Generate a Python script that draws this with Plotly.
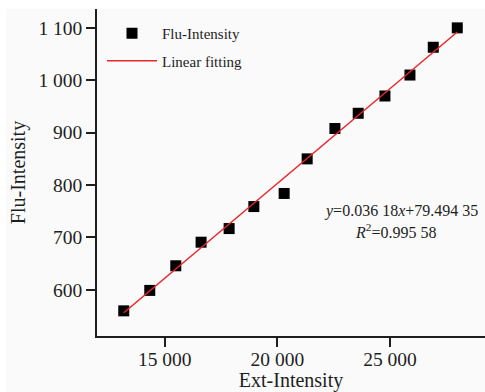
import plotly.graph_objects as go

# Data
ext_intensity = [13178, 14333, 15489, 16613, 17858, 18956, 20302, 21324,
                 22556, 23591, 24778, 25889, 26924, 27991]
flu_intensity = [560, 599, 646, 691, 717, 759, 784, 850,
                 908, 937, 970, 1010, 1063, 1100]
fit_x = [13178, 27991]
fit_y = [556.3, 1092.2]

x_tickvals = [15000, 20000, 25000]
x_ticktext = ["15 000", "20 000", "25 000"]
y_tickvals = [600, 700, 800, 900, 1000, 1100]
y_ticktext = ["600", "700", "800", "900", "1 000", "1 100"]

FONT = "Liberation Serif, Times New Roman, serif"
INK = "#1e1e1e"

# plot area in pixels
L, R, T, B = 97, 485, 9, 336
PW, PH = R - L, B - T

fig = go.Figure()
fig.add_trace(go.Scatter(
    x=ext_intensity, y=flu_intensity, mode="markers", name="Flu-Intensity",
    legendgroup="a",
    marker=dict(symbol="square", size=11, color="#000000"),
))
fig.add_trace(go.Scatter(
    x=fit_x, y=fit_y, mode="lines", name="Linear fitting",
    legendgroup="b",
    line=dict(color="#e8262b", width=1.5),
))

fig.update_layout(
    template="none",
    width=485, height=392,
    margin=dict(l=L, r=485 - R, t=T, b=392 - B, pad=0),
    paper_bgcolor="#ffffff",
    plot_bgcolor="#fafafa",
    font=dict(family=FONT, size=16, color=INK),
    showlegend=True,
    legend=dict(
        x=5 / PW, y=1 - 8 / PH, xanchor="left", yanchor="top",
        bgcolor="rgba(0,0,0,0)",
        font=dict(family=FONT, size=15, color=INK),
        itemwidth=50, tracegroupgap=5, traceorder="grouped",
    ),
    shapes=[dict(
        type="rect", xref="paper", yref="paper",
        x0=-(L - 6) / PW, x1=1.0, y0=-(392 - B) / PH, y1=1.0,
        fillcolor="#fafafa", line=dict(width=0), layer="below",
    )],
    annotations=[
        dict(xref="paper", yref="paper", x=(401 - L) / PW, y=(B - 211) / PH,
             text="<i>y</i>=0.036 18<i>x</i>+79.494 35", showarrow=False,
             font=dict(family=FONT, size=16, color=INK),
             xanchor="center", yanchor="middle"),
        dict(xref="paper", yref="paper", x=(395 - L) / PW, y=(B - 231) / PH,
             text="<i>R</i><sup>2</sup>=0.995 58", showarrow=False,
             font=dict(family=FONT, size=16, color=INK),
             xanchor="center", yanchor="middle"),
    ],
)

fig.update_xaxes(
    range=[11990, 29222], automargin=False,
    tickvals=x_tickvals, ticktext=x_ticktext,
    ticks="outside", ticklen=9, tickwidth=1.5, tickcolor=INK,
    ticklabelstandoff=-4,
    showline=True, linecolor=INK, linewidth=1.5,
    showgrid=False, zeroline=False,
    title=dict(text="Ext-Intensity", font=dict(family=FONT, size=20, color=INK), standoff=8),
    tickfont=dict(family=FONT, size=19.5, color=INK),
)
fig.update_yaxes(
    range=[512, 1136], automargin=False,
    tickvals=y_tickvals, ticktext=y_ticktext,
    ticks="outside", ticklen=9, tickwidth=1.5, tickcolor=INK,
    showline=True, linecolor=INK, linewidth=1.5,
    showgrid=False, zeroline=False,
    title=dict(text="Flu-Intensity", font=dict(family=FONT, size=20, color=INK), standoff=7),
    tickfont=dict(family=FONT, size=19.5, color=INK),
)

fig.write_html("out.html", config={"displayModeBar": False},
               post_script="document.body.style.margin='0';document.body.style.padding='0';")
